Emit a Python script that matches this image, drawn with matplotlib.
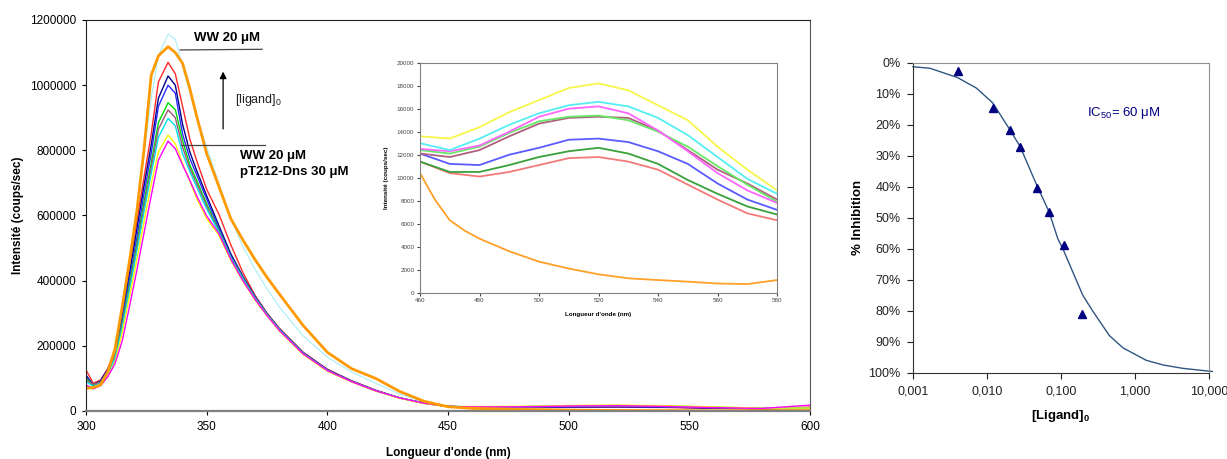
import numpy as np
import matplotlib
matplotlib.use("Agg")
import matplotlib.pyplot as plt

plt.rcParams['font.family'] = 'Liberation Sans'
plt.rcParams['mathtext.fontset'] = 'custom'
plt.rcParams['mathtext.rm'] = 'Liberation Sans'
plt.rcParams['mathtext.it'] = 'Liberation Sans:italic'
plt.rcParams['mathtext.bf'] = 'Liberation Sans:bold'

# --- main spectra (intensity in thousands of counts/sec) ---
wl = [300, 303, 306, 309, 312, 315, 318, 321, 324, 327, 330, 334, 337, 340, 343, 346, 350, 355, 360, 365,
      370, 375, 380, 390, 400, 410, 420, 430, 440, 450, 460, 480, 500, 520, 540, 560, 580, 600]

spec_pale = [95, 78, 88, 125, 190, 315, 455, 600, 780, 960, 1090, 1157, 1140, 1060, 975, 900, 810, 700, 590, 505,
             435, 375, 320, 230, 165, 120, 85, 52, 28, 14, 13, 13.4, 15.6, 16.6, 15.2, 11.8, 8.6, 9]
spec_red = [126, 85, 95, 130, 185, 300, 440, 580, 715, 850, 1010, 1070, 1035, 935, 835, 765, 680, 605, 510, 425,
            355, 300, 255, 180, 128, 93, 64, 40, 24, 14, 11.4, 10.1, 11.1, 11.8, 10.7, 8.1, 6.3, 12]
spec_navy = [110, 80, 92, 128, 180, 290, 420, 555, 690, 815, 960, 1028, 1000, 880, 795, 735, 660, 570, 482, 413,
             352, 299, 253, 179, 127, 92, 63, 40, 24, 14, 12, 11, 12.5, 13, 12, 9, 7, 8]
spec_blue = [105, 78, 90, 125, 175, 280, 405, 530, 665, 790, 935, 1000, 975, 850, 775, 722, 650, 560, 475, 410,
             350, 298, 252, 178, 126, 92, 63, 40, 24, 14, 12.1, 11.1, 12.6, 13.4, 12.3, 9.5, 7.2, 8]
spec_green = [100, 80, 88, 120, 168, 268, 390, 510, 640, 760, 885, 946, 925, 830, 755, 705, 635, 555, 472, 408,
              348, 297, 251, 177, 125, 91, 62, 40, 24, 14, 12.4, 12.7, 14.9, 15.4, 14.0, 11.0, 7.9, 8]
spec_mauve = [95, 82, 88, 118, 165, 262, 380, 500, 625, 745, 865, 924, 900, 810, 745, 695, 628, 552, 470, 406,
              347, 296, 250, 176, 125, 91, 62, 40, 24, 14, 12.1, 12.4, 14.7, 15.3, 14.1, 10.7, 8.1, 10]
spec_cyan = [90, 76, 85, 115, 160, 255, 370, 488, 610, 728, 840, 898, 875, 790, 735, 685, 620, 550, 470, 405,
             346, 295, 250, 176, 124, 90, 62, 40, 24, 14, 13.0, 13.4, 15.6, 16.6, 15.2, 11.8, 8.6, 9]
spec_yellow = [70, 68, 78, 105, 150, 240, 350, 462, 580, 695, 795, 847, 820, 760, 705, 650, 590, 540, 462, 398,
               341, 292, 246, 173, 122, 89, 61, 39, 23, 13, 13.6, 14.4, 16.8, 18.2, 16.3, 12.7, 8.9, 9]
spec_magenta = [80, 68, 78, 105, 145, 215, 320, 430, 545, 660, 770, 828, 805, 755, 708, 658, 598, 545, 466, 400,
                343, 293, 248, 175, 124, 90, 62, 40, 24, 14, 12.5, 12.8, 15.3, 16.2, 14.1, 10.4, 7.8, 18]
spec_orange = [70, 72, 80, 120, 190, 320, 460, 610, 800, 1030, 1090, 1118, 1100, 1067, 990, 900, 790, 690, 590, 525,
               465, 410, 360, 262, 180, 130, 100, 60, 30, 13, 8, 4.7, 2.7, 1.6, 1.1, 0.8, 1.1, 1.0]

# --- inset (counts/sec, thousands) ---
inset_wl = [460, 470, 480, 490, 500, 510, 520, 530, 540, 550, 560, 570, 580]
in_yellow = [13.6, 13.4, 14.4, 15.7, 16.75, 17.8, 18.2, 17.6, 16.3, 15.0, 12.7, 10.7, 8.9]
in_cyan = [13.0, 12.4, 13.4, 14.6, 15.6, 16.3, 16.6, 16.2, 15.2, 13.7, 11.8, 9.9, 8.6]
in_magenta = [12.5, 12.3, 12.8, 14.0, 15.3, 16.0, 16.2, 15.6, 14.1, 12.3, 10.4, 8.9, 7.8]
in_lime = [12.4, 12.1, 12.7, 13.9, 14.9, 15.3, 15.4, 15.0, 14.0, 12.7, 11.0, 9.4, 7.9]
in_mauve = [12.1, 11.8, 12.4, 13.6, 14.7, 15.2, 15.3, 15.2, 14.1, 12.4, 10.7, 9.5, 8.1]
in_blue = [12.1, 11.2, 11.1, 12.0, 12.6, 13.3, 13.4, 13.1, 12.3, 11.2, 9.5, 8.1, 7.2]
in_dkgreen = [11.4, 10.5, 10.5, 11.1, 11.8, 12.3, 12.6, 12.1, 11.2, 9.8, 8.6, 7.5, 6.8]
in_salmon = [11.4, 10.4, 10.1, 10.5, 11.1, 11.7, 11.8, 11.4, 10.7, 9.4, 8.1, 6.9, 6.3]
inset_wl_orange = [460, 465, 470, 475, 480, 490, 500, 510, 520, 530, 540, 550, 560, 570, 580]
in_orange = [10.4, 8.1, 6.3, 5.4, 4.7, 3.6, 2.7, 2.1, 1.6, 1.25, 1.1, 0.96, 0.8, 0.75, 1.1]

# --- inhibition curve ---
lig = [0.004, 0.0122, 0.0205, 0.028, 0.048, 0.0695, 0.111, 0.19]
inhib = [2.7, 14.7, 21.6, 27.3, 40.3, 48.0, 58.7, 81.0]
fit_x = [0.001, 0.0017, 0.004, 0.0072, 0.012, 0.0202, 0.028, 0.047, 0.0687, 0.091, 0.106, 0.16, 0.197,
         0.27, 0.45, 0.69, 1.42, 2.39, 4.45, 10.0, 11.1]
fit_y = [1.3, 1.8, 4.8, 8.2, 13, 21.5, 27, 39.5, 48, 56.9, 60, 70, 75, 80.2, 88, 92, 96, 97.5, 98.6, 99.5, 99.6]

fig = plt.figure(figsize=(12.27, 4.59), dpi=100)

# ---------------- main spectra ----------------
ax = fig.add_axes([0.0701, 0.1046, 0.5901, 0.8519])
main_series = [
    (spec_pale, '#a8eef6', 0.8),
    (spec_red, '#ff2a2a', 1.0),
    (spec_navy, '#000088', 1.0),
    (spec_blue, '#2a2aff', 1.0),
    (spec_green, '#00dd00', 1.0),
    (spec_mauve, '#a05478', 1.0),
    (spec_cyan, '#00e0e8', 1.0),
    (spec_yellow, '#f8f800', 1.0),
    (spec_magenta, '#ff00ff', 1.0),
    (spec_orange, '#ff9900', 2.0),
]
for vals, col, lw in main_series:
    ax.plot(wl, np.array(vals) * 1000, color=col, lw=lw)

ax.set_xlim(300, 600)
ax.set_ylim(0, 1200000)
ax.set_xticks([300, 350, 400, 450, 500, 550, 600])
yt = list(range(0, 1200001, 200000))
ax.set_yticks(yt)
ax.set_yticklabels([str(v) for v in yt])
ax.tick_params(labelsize=8.5, length=3, pad=4)
ax.set_xlabel("Longueur d'onde (nm)", fontsize=8.5, fontweight='bold', labelpad=10)
ax.set_ylabel("Intensité (coups/sec)", fontsize=8.5, fontweight='bold', labelpad=4)
for side in ['left', 'top']:
    ax.spines[side].set_color('#222222')
ax.spines['bottom'].set_color('#808080')
ax.spines['bottom'].set_linewidth(1.6)
ax.spines['right'].set_color('#555555')

# annotations
ax.plot([339, 373], [1108000, 1110000], color='#444444', lw=0.9)
ax.text(358.5, 1145000, 'WW 20 μM', fontsize=9.5, fontweight='bold', ha='center', va='center')
ax.annotate('', xy=(356.8, 1050000), xytext=(356.8, 857000),
            arrowprops=dict(arrowstyle='-|>', color='black', lw=0.9, mutation_scale=10))
ax.text(361.7, 955000, '[ligand]$_0$', fontsize=9, ha='left', va='center', color='#222222')
ax.plot([339.5, 374], [816000, 816000], color='#444444', lw=0.9)
ax.text(363.8, 782000, 'WW 20 μM', fontsize=9.5, fontweight='bold', ha='left', va='center')
ax.text(363.8, 732000, 'pT212-Dns 30 μM', fontsize=9.5, fontweight='bold', ha='left', va='center')

# ---------------- inset ----------------
axi = fig.add_axes([0.3423, 0.3623, 0.2910, 0.5011])
inset_series = [
    (in_salmon, '#f27a7a'),
    (in_dkgreen, '#3aa03a'),
    (in_blue, '#5a5aff'),
    (in_mauve, '#b0607e'),
    (in_lime, '#66e866'),
    (in_magenta, '#ff66ff'),
    (in_cyan, '#55eef2'),
    (in_yellow, '#f6f64a'),
]
for vals, col in inset_series:
    axi.plot(inset_wl, np.array(vals) * 1000, color=col, lw=1.3)
axi.plot(inset_wl_orange, np.array(in_orange) * 1000, color='#ffa028', lw=1.3)
axi.set_xlim(460, 580)
axi.set_ylim(0, 20000)
axi.set_xticks(range(460, 581, 20))
axi.set_yticks(range(0, 20001, 2000))
axi.tick_params(labelsize=4.5, length=2, pad=2, colors='#444444')
axi.set_xlabel("Longueur d'onde (nm)", fontsize=4.5, fontweight='bold', labelpad=6)
axi.set_ylabel("Intensité (coups/sec)", fontsize=4.5, fontweight='bold', labelpad=6)
for s in axi.spines.values():
    s.set_color('#808080')
    s.set_linewidth(0.8)

# ---------------- inhibition ----------------
axr = fig.add_axes([0.7441, 0.188, 0.2412, 0.6754])
axr.plot(fit_x, fit_y, color='#2f5582', lw=1.0, clip_on=False)
axr.plot(lig, inhib, linestyle='none', marker='^', color='#000080', markersize=6)
axr.set_xscale('log')
axr.set_xlim(0.001, 10)
axr.set_ylim(100, 0)
axr.set_xticks([0.001, 0.01, 0.1, 1, 10])
axr.set_xticklabels(['0,001', '0,010', '0,100', '1,000', '10,000'])
axr.minorticks_off()
axr.set_yticks(range(0, 101, 10))
axr.set_yticklabels([f'{v}%' for v in range(0, 101, 10)])
axr.tick_params(labelsize=9, length=4, pad=5, colors='#222222')
axr.set_xlabel('[Ligand]$_\\mathbf{0}$', fontsize=9.5, fontweight='bold', labelpad=8)
axr.set_ylabel('% Inhibition', fontsize=9.5, fontweight='bold', labelpad=3)
axr.spines['left'].set_color('#333333')
axr.spines['bottom'].set_color('#333333')
axr.spines['top'].set_color('#909090')
axr.spines['right'].set_color('#909090')
axr.text(0.588, 0.838, 'IC$_{50}$= 60 μM', transform=axr.transAxes, fontsize=9.5,
         color='#000080', ha='left', va='center')

fig.savefig('out.png', dpi=100)
